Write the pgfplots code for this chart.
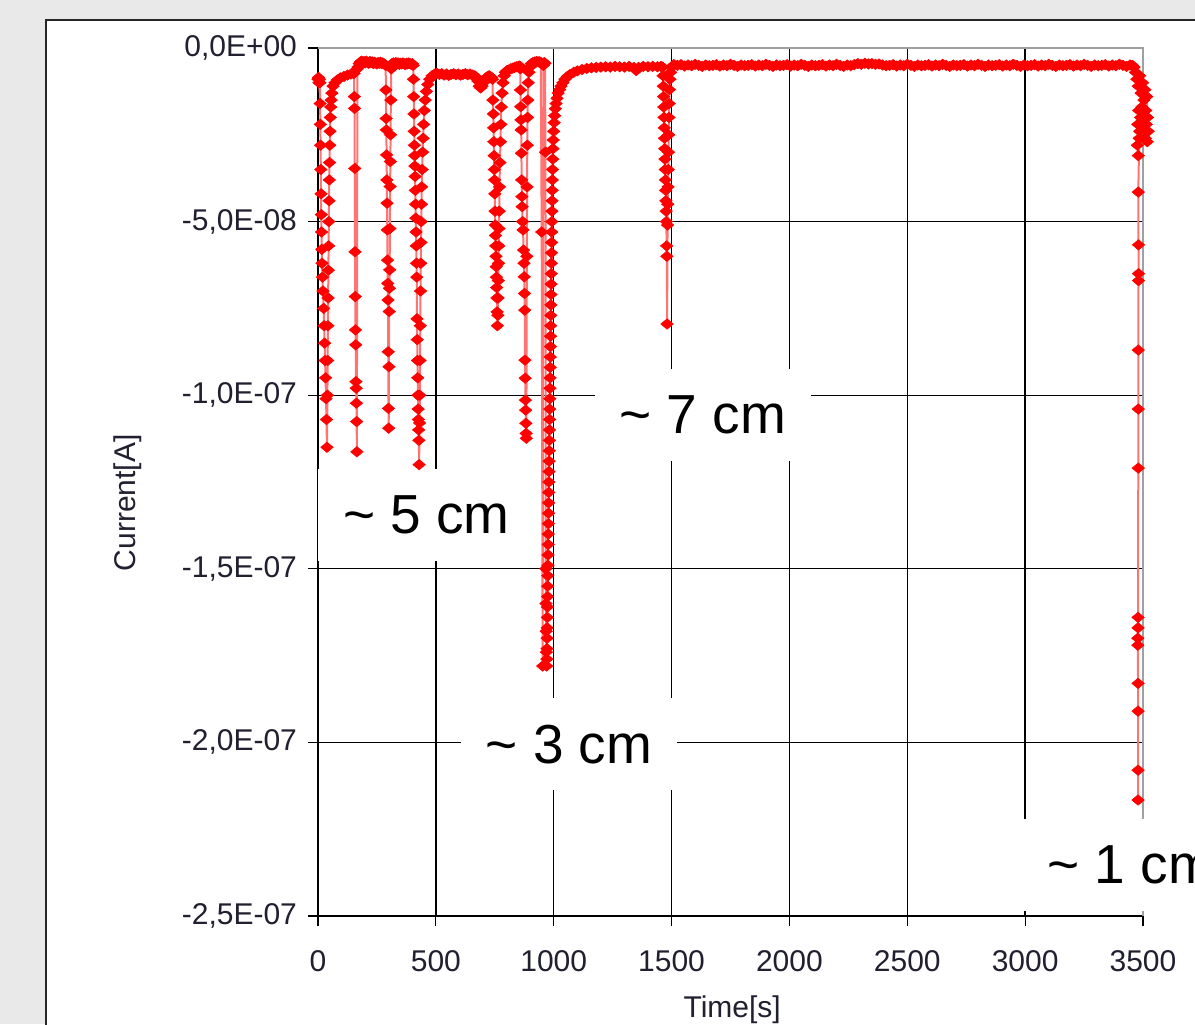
\documentclass[border=0pt]{standalone}
\usepackage{fontspec}
\setmainfont{Liberation Sans}
\usepackage{pgfplots}
\pgfplotsset{compat=1.18}
\definecolor{bggray}{HTML}{E9E9E9}
\definecolor{framegray}{HTML}{A0A0A0}
\definecolor{txt}{HTML}{202030}
\pgfdeclareplotmark{wdiamond}{%
  \pgfpathmoveto{\pgfqpoint{0pt}{2.6pt}}%
  \pgfpathlineto{\pgfqpoint{3.1pt}{0pt}}%
  \pgfpathlineto{\pgfqpoint{0pt}{-2.6pt}}%
  \pgfpathlineto{\pgfqpoint{-3.1pt}{0pt}}%
  \pgfpathclose\pgfusepathqfillstroke}
\tikzset{lbl/.style={fill=white, inner xsep=12.5pt, inner ysep=0pt, minimum height=46pt, font=\fontsize{27.5}{33}\selectfont, text=black}}
\begin{document}
\begin{tikzpicture}
\useasboundingbox (0pt,0pt) rectangle (597.5pt,512pt);
\clip (0pt,0pt) rectangle (597.5pt,512pt);
\fill[bggray] (0pt,0pt) rectangle (597.5pt,512pt);
\filldraw[fill=white, draw=black!85, line width=1pt] (23pt,-10pt) rectangle (630pt,502pt);
\begin{axis}[
  at={(159pt,488pt)}, anchor=origin,
  scale only axis, width=412.5pt, height=434pt,
  xmin=0, xmax=3500, ymin=-250, ymax=0,
  clip=false,
  axis lines=left,
  axis line style={-, black, line width=0.7pt},
  xtick={0,500,1000,1500,2000,2500,3000},
  xticklabels={0,500,1000,1500,2000,2500,3000},
  extra x ticks={3500}, extra x tick labels={3500},
  extra x tick style={grid=none},
  ytick={-250,-200,-150,-100,-50},
  yticklabels={{-2,5E-07},{-2,0E-07},{-1,5E-07},{-1,0E-07},{-5,0E-08}},
  extra y ticks={0}, extra y tick labels={{0{,}0E+00}},
  extra y tick style={grid=none},
  tick align=outside,
  major tick length=5pt,
  tick style={black, line width=0.6pt},
  grid=major,
  grid style={black, line width=0.65pt},
  ticklabel style={font=\fontsize{15}{18}\selectfont, text=txt},
  xticklabel style={yshift=-8.5pt},
  yticklabel style={xshift=-2pt},
  xlabel={Time[s]}, ylabel={Current[A]},
  xlabel style={at={(axis description cs:0.502,-0.1083)}, anchor=center, font=\fontsize{15}{18}\selectfont, text=txt},
  ylabel style={at={(axis description cs:-0.2303,0.476)}, anchor=center, font=\fontsize{15}{18}\selectfont, text=txt},
]
\draw[framegray, line width=0.7pt] (rel axis cs:0,1) -- (rel axis cs:1,1) -- (rel axis cs:1,0);
\addplot[color=red!55, line width=1pt, mark=wdiamond,
  mark options={solid, fill=red, draw=red, line width=0.3pt}] coordinates {
(0,-9)(2,-8.5)(4,-10)(6,-9)(8,-10)
(9,-16)(10,-22)(11,-28)(12,-35)(13,-42)(14,-48)(15,-53)(16,-58)(17,-62)(19,-66)(21,-70)
(24,-75)(26,-80)(28,-85)(30,-90)(32,-95)(34,-101)(36,-107)(38,-115)
(40,-100)(41,-90)(42,-80)(43,-72)(44,-64)(45,-57)(46,-50)(47,-44)(48,-38)(49,-33)(50,-28)(51,-24)(52,-20)(54,-17)(56,-15)(59,-13)(64,-11)(72,-10)(82,-9.2)(95,-8.6)(110,-8.2)(125,-7.8)(140,-7.5)(150,-7.3)
(153,-7.3)(154,-14)(155,-17.4)(156,-34.7)(157,-58.7)(158,-71.6)(159,-81.2)(160,-85.5)(161,-96.1)(162,-98)(163,-102.3)(164,-107.6)(165,-116.3)(167,-6)
(170,-5.5)(175,-4.5)(180,-4)(185,-3.8)(190,-4.2)(195,-3.9)(200,-4.3)(205,-3.8)(210,-4.1)(215,-4.4)(220,-3.9)(225,-4.2)(230,-4)(235,-4.5)(240,-4.1)(245,-4.3)(250,-4.6)(255,-4.2)(260,-4.4)(265,-4.1)(270,-4.5)(275,-4.3)(280,-4.6)(285,-4.8)
(287,-5)(288,-12.1)(289,-20.3)(290,-23.6)(291,-30.8)(292,-38)(293,-44.7)(294,-52.4)(295,-61.1)(296,-67.8)(297,-72.6)(298,-87.5)(299,-103.8)(300,-109.5)
(301,-91.8)(302,-75.9)(303,-69.2)(304,-63.9)(305,-52)(306,-39.9)(307,-32.7)(308,-25)(309,-15)(311,-6)(314,-4.5)
(320,-4.3)(325,-4.6)(330,-4.2)(335,-4.5)(340,-4.3)(345,-4.7)(350,-4.4)(355,-4.6)(360,-4.3)(365,-4.5)(370,-4.8)(375,-4.4)(380,-4.6)(385,-4.3)(390,-4.5)(395,-4.7)(400,-4.5)
(404,-5)(405,-9)(406,-14)(407,-19)(408,-24)(409,-28)(410,-31)(411,-34)(412,-37)(413,-41)(414,-45)(415,-49)(416,-53)(417,-57)(418,-62)(419,-66)(420,-78)(421,-84)(422,-90)(423,-95)(424,-100)(425,-104)(426,-107)(427,-110)(428,-113)(429,-120)
(431,-108)(432,-100)(433,-90)(434,-80)(435,-70)(436,-62)(437,-56)(438,-50)(439,-45)(440,-40)(442,-35)(444,-30)(446,-26)(448,-22)(451,-18)(455,-15)(460,-12.5)(466,-10.5)(474,-9)(484,-8)(495,-7.5)
(505,-7.3)(515,-7.6)(525,-7.4)(535,-7.8)(545,-7.5)(555,-7.9)(565,-7.6)(575,-7.4)(585,-7.7)(595,-7.5)(605,-7.8)(615,-7.6)(625,-7.4)(635,-7.7)(645,-7.5)(655,-7.8)(665,-8)
(672,-8.5)(678,-9.5)(684,-11)(690,-11.5)(696,-11)(702,-10)(708,-9)(714,-8.5)(720,-8.2)(726,-8)(732,-8.3)(737,-8.5)
(740,-9)(742,-15)(744,-19)(745,-23)(746,-27)(747,-31)(748,-35)(749,-38)(750,-42)(751,-47)(752,-51)(753,-54)(754,-57)(755,-60)(756,-63)(757,-66)(758,-69)(759,-72)(760,-76)(761,-80)
(763,-77)(764,-72)(765,-67)(766,-62)(767,-57)(768,-52)(769,-47)(770,-40)(772,-33)(774,-27)(776,-22)(778,-17)(781,-13)(785,-10)(790,-8)
(795,-7)(802,-6.5)(810,-6.3)(818,-6)(826,-5.8)(834,-5.6)(842,-5.4)(850,-5.3)(856,-5.2)
(858,-6)(859,-12.1)(860,-16.9)(861,-20.7)(862,-23.6)(863,-30.3)(864,-38)(865,-42.8)(866,-45.7)(868,-50)(870,-52.4)(872,-58.2)(874,-62)(875,-65.9)(876,-70.7)(877,-75.5)(878,-89.9)(879,-95.1)(880,-101.4)(881,-104.3)(882,-108.1)(883,-111)(884,-112.4)
(886,-60)(887,-40)(888,-28)(889,-20)(890,-15)(892,-10)(895,-7)(900,-5.5)
(905,-4.5)(912,-4.2)(920,-4)(928,-3.9)(936,-4)(940,-4)(945,-4.1)(949,-53)(953,-178)(956,-5)(960,-4.2)(963,-4.4)
(965,-30)(966,-150)(967,-160)(968,-168)(969,-174)(970,-178)
(971,-176)(971.5,-173)(972,-170)(972.5,-167)(973,-164)(973.5,-161)(974,-158)(974.5,-155)(975,-152)(975.5,-149)(976,-146)(976.5,-143)(977,-140)(977.5,-137)(978,-134)(978.5,-131)(979,-128)(979.5,-125)(980,-122)(980.5,-119)(981,-116)(981.5,-113)(982,-110)(982.5,-107)(983,-104)(983.5,-101)(984,-98)(984.5,-95)(985,-92)(985.5,-89)(986,-86)(986.5,-83)(987,-80)(987.5,-77)(988,-74)(988.5,-71)(989,-68)(989.5,-65)(990,-62)(990.5,-59)(991,-56)(991.5,-53)(992,-50)(992.5,-47)(993,-44)(993.5,-41)(994,-38)(995,-35)(996,-32)(997,-29)(998,-26.5)(1000,-24)(1002,-21.5)(1004,-19.5)(1007,-17.5)(1010,-16)(1014,-14.5)(1019,-13)(1025,-12)(1031,-11)(1039,-10)(1048,-9)(1058,-8.2)(1070,-7.6)(1085,-7)(1100,-6.6)(1120,-6.2)(1140,-5.9)(1160,-5.7)
(1180,-5.6)(1200,-5.5)(1220,-5.4)(1240,-5.5)(1260,-5.3)(1280,-5.4)(1300,-5.5)(1320,-5.3)(1340,-5.6)(1350,-6.5)(1360,-5.6)(1380,-5.3)(1400,-5.4)(1420,-5.3)(1440,-5.4)(1455,-5.3)
(1462,-5.5)(1464,-8)(1465,-11)(1466,-14)(1467,-17)(1468,-20)(1469,-23)(1470,-26)(1471,-29)(1472,-32)(1473,-35)(1474,-38)(1475,-41)(1476,-44)(1477,-47)(1478,-50)(1479,-57)(1480,-60)(1481,-79.5)
(1483,-51)(1484,-45)(1485,-40)(1486,-35)(1487,-30)(1488,-25)(1489,-20)(1490,-16)(1491,-12)(1493,-9)(1496,-7)(1500,-5.5)(1510,-4.8)
(1525,-5.0)(1540,-4.8)(1555,-5.2)(1570,-4.9)(1585,-5.1)(1600,-4.7)(1615,-5.0)(1630,-5.3)(1645,-4.9)(1660,-5.1)
(1675,-5.0)(1690,-4.8)(1705,-5.2)(1720,-4.9)(1735,-5.1)(1750,-4.7)(1765,-5.0)(1780,-5.3)(1795,-4.9)(1810,-5.1)
(1825,-5.0)(1840,-4.8)(1855,-5.2)(1870,-4.9)(1885,-5.1)(1900,-4.7)(1915,-5.0)(1930,-5.3)(1945,-4.9)(1960,-5.1)
(1975,-5.0)(1990,-4.8)(2005,-5.2)(2020,-4.9)(2035,-5.1)(2050,-4.7)(2065,-5.0)(2080,-5.3)(2095,-4.9)(2110,-5.1)
(2125,-5.0)(2140,-4.8)(2155,-5.2)(2170,-4.9)(2185,-5.1)(2200,-4.7)(2215,-5.0)(2230,-5.3)(2245,-4.9)(2260,-5.1)
(2275,-4.8)(2290,-4.5)(2305,-4.7)(2320,-4.4)(2335,-4.6)(2350,-4.5)(2365,-4.7)(2380,-4.6)(2395,-4.9)(2410,-5.1)
(2425,-5.0)(2440,-4.8)(2455,-5.2)(2470,-4.9)(2485,-5.1)(2500,-4.7)(2515,-5.0)(2530,-5.3)(2545,-4.9)(2560,-5.1)
(2575,-5.0)(2590,-4.8)(2605,-5.2)(2620,-4.9)(2635,-5.1)(2650,-4.7)(2665,-5.0)(2680,-5.3)(2695,-4.9)(2710,-5.1)
(2725,-5.0)(2740,-4.8)(2755,-5.2)(2770,-4.9)(2785,-5.1)(2800,-4.7)(2815,-5.0)(2830,-5.3)(2845,-4.9)(2860,-5.1)
(2875,-5.0)(2890,-4.8)(2905,-5.2)(2920,-4.9)(2935,-5.1)(2950,-4.7)(2965,-5.0)(2980,-5.3)(2995,-4.9)(3010,-5.1)
(3025,-5.0)(3040,-4.8)(3055,-5.2)(3070,-4.9)(3085,-5.1)(3100,-4.7)(3115,-5.0)(3130,-5.3)(3145,-4.9)(3160,-5.1)
(3175,-5.0)(3190,-4.8)(3205,-5.2)(3220,-4.9)(3235,-5.1)(3250,-4.7)(3265,-5.0)(3280,-5.3)(3295,-4.9)(3310,-5.1)
(3325,-5.0)(3340,-4.8)(3355,-5.2)(3370,-4.9)(3385,-5.1)(3400,-4.7)(3415,-5.0)(3430,-5.3)(3445,-4.9)(3455,-5.0)
(3462,-5.5)(3468,-7)(3474,-9)(3480,-11)(3486,-8)(3492,-13)(3498,-10)(3504,-15)(3508,-12)(3512,-18)(3516,-14)(3519,-20)(3522,-24)(3518,-27)(3514,-22)(3510,-26)(3505,-20)(3500,-23)(3495,-17)(3490,-20)(3486,-24)(3482,-18)(3478,-22)(3476,-28)(3480,-31)(3484,-26)
(3480,-41.5)(3481,-56.7)(3481,-65)(3481,-67)(3480,-87)(3480,-104)(3480,-121)(3479,-164)(3479,-167)(3478,-170)(3478,-172)(3479,-183)(3479,-191)(3479,-208)(3479,-216.6)
};
\node[lbl] at (axis cs:460,-134.5) {\textasciitilde{} 5 cm};
\node[lbl] at (axis cs:1633,-105.7) {\textasciitilde{} 7 cm};
\node[lbl] at (axis cs:1065,-200.6) {\textasciitilde{} 3 cm};
\node[lbl, anchor=west] at (axis cs:2986.6,-235.3) {\textasciitilde{} 1 cm};
\end{axis}
\end{tikzpicture}
\end{document}
